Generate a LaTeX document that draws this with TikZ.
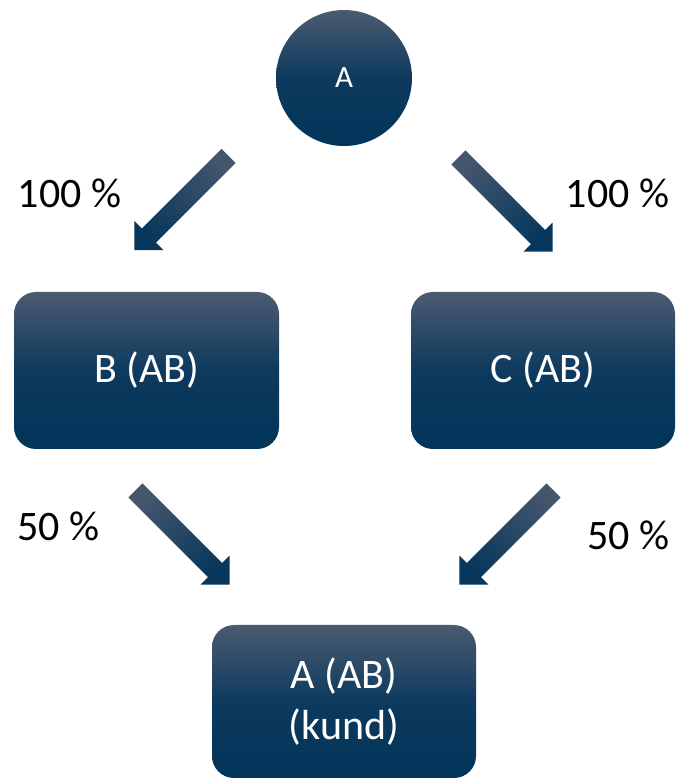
\documentclass[tikz,border=0pt]{standalone}
\usepackage{fontspec}
\setmainfont{Carlito}
\definecolor{ctop}{HTML}{4B5B70}
\definecolor{cmid}{HTML}{0D3A5E}
\definecolor{cbot}{HTML}{023459}
\definecolor{atail}{HTML}{44566C}
\definecolor{atip}{HTML}{07375C}
\newcommand\blockarrow[3]{%
  \begin{scope}[shift={(#1)}, rotate=#2]
    \path[arrowfill, shading angle=#3]
      (0,-10) -- (112.5,-10) -- (112.5,-20.5) -- (133,0) -- (112.5,20.5)
      -- (112.5,10) -- (0,10) -- cycle;
  \end{scope}}
\begin{document}
\begin{tikzpicture}[x=1pt,y=1pt,
  box/.style={rounded corners=22pt, top color=ctop, bottom color=cbot, middle color=cmid,
    text=white, font=\fontsize{42}{51}\selectfont, align=center,
    minimum width=265pt, minimum height=157pt, inner sep=0pt},
  roundbox/.style={circle, top color=ctop, bottom color=cbot, middle color=cmid,
    text=white, font=\fontsize{31}{36}\selectfont, minimum size=136pt, inner sep=0pt},
  pct/.style={anchor=base, font=\fontsize{42}{51}\selectfont, text=black, inner sep=0pt},
  arrowfill/.style={top color=atail, bottom color=atip}]
\useasboundingbox (0,0) rectangle (679,780);

\node[roundbox] (a) at (344,702) {A};
\node[box] (b) at (146.5,409.5) {B (AB)};
\node[box, minimum width=264pt] (c) at (543,409.5) {C (AB)};
\node[box, minimum width=264pt, minimum height=153pt] (d) at (344,78.5) {A (AB)\\(kund)};

\coordinate (tl) at (228.5,624);
\coordinate (tr) at (458.5,622.5);
\coordinate (bl) at (135.5,289.5);
\coordinate (br) at (553.5,289.5);
\blockarrow{tl}{225}{-45}
\blockarrow{tr}{-45}{45}
\blockarrow{bl}{-45}{45}
\blockarrow{br}{225}{-45}

\node[pct] (p1) at (69.5,572) {100 \%};
\node[pct] (p2) at (617.5,572) {100 \%};
\node[pct] (p3) at (58.5,239) {50 \%};
\node[pct] (p4) at (628.5,230) {50 \%};
\end{tikzpicture}
\end{document}
